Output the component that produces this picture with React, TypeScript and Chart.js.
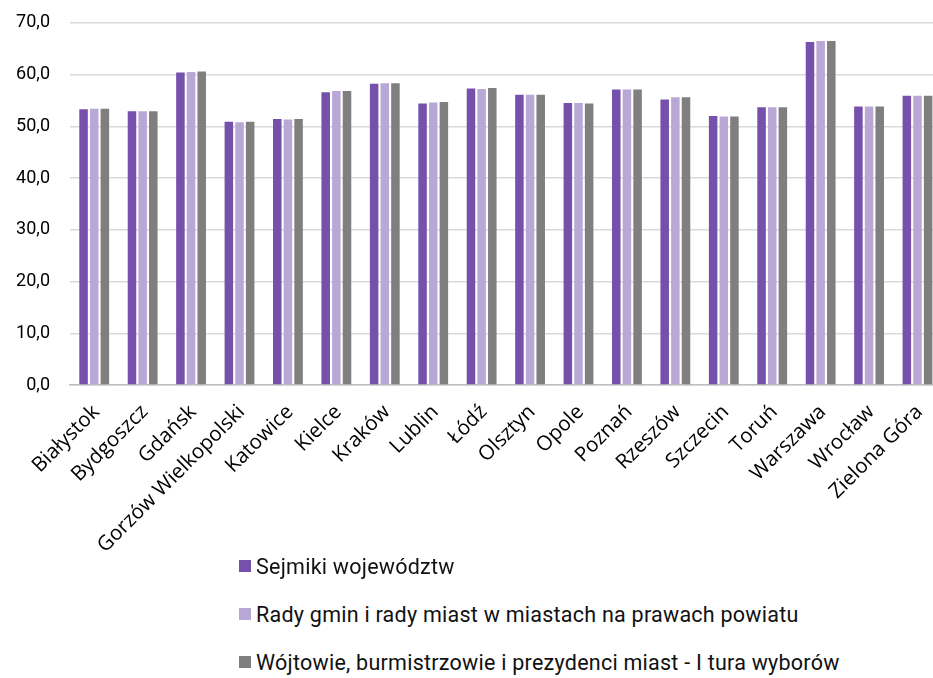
import React, { useEffect, useRef } from "react";
import { Chart, registerables } from "chart.js";

Chart.register(...registerables);

const categories = [
  "Białystok", "Bydgoszcz", "Gdańsk", "Gorzów Wielkopolski", "Katowice", "Kielce",
  "Kraków", "Lublin", "Łódź", "Olsztyn", "Opole", "Poznań", "Rzeszów", "Szczecin",
  "Toruń", "Warszawa", "Wrocław", "Zielona Góra",
];

const sejmiki = [53.3, 52.9, 60.4, 50.9, 51.4, 56.6, 58.2, 54.4, 57.3, 56.1, 54.5, 57.1, 55.2, 52.0, 53.7, 66.3, 53.8, 55.9];
const radyGmin = [53.4, 52.9, 60.5, 50.8, 51.3, 56.8, 58.3, 54.6, 57.2, 56.1, 54.5, 57.1, 55.6, 51.9, 53.7, 66.5, 53.8, 55.9];
const wojtowie = [53.4, 52.9, 60.6, 50.9, 51.4, 56.8, 58.3, 54.7, 57.4, 56.1, 54.4, 57.1, 55.6, 51.9, 53.7, 66.5, 53.8, 55.9];

const seriesNames = [
  "Sejmiki województw",
  "Rady gmin i rady miast w miastach na prawach powiatu",
  "Wójtowie, burmistrzowie i prezydenci miast - I tura wyborów",
];
const seriesColors = ["#7551ac", "#b9a8d6", "#7f7f7f"];

const yTicks = [0, 10, 20, 30, 40, 50, 60, 70];

export default function App() {
  const ref = useRef<HTMLCanvasElement | null>(null);

  useEffect(() => {
    if (!ref.current) return;
    const chart = new Chart(ref.current, {
      type: "bar",
      data: {
        labels: categories,
        datasets: [sejmiki, radyGmin, wojtowie].map((d, i) => ({
          label: seriesNames[i],
          data: d,
          backgroundColor: seriesColors[i],
          borderWidth: 0,
          categoryPercentage: 0.66,
          barPercentage: 0.8,
        })),
      },
      options: {
        responsive: false,
        animation: false,
        layout: { padding: { left: 8, right: 4, top: 0, bottom: 0 } },
        plugins: {
          legend: { display: false },
          tooltip: { enabled: false },
        },
        scales: {
          x: {
            afterFit: (scale: any) => {
              scale.height = 175;
            },
            grid: { display: false, drawTicks: false },
            border: { color: "#bfbfbf", width: 1.5 },
            ticks: {
              color: "#000",
              font: { family: "Open Sans", size: 20.5 },
              minRotation: 45,
              maxRotation: 45,
              padding: 15,
              labelOffset: 2,
            },
          },
          y: {
            min: 0,
            max: 70,
            afterFit: (scale: any) => {
              scale.width = 62;
            },
            afterBuildTicks: (scale: any) => {
              scale.ticks = yTicks.map((v) => ({ value: v }));
            },
            grid: { color: "#d9d9d9", lineWidth: 1.5, drawTicks: false },
            border: { display: false },
            ticks: {
              color: "#000",
              padding: 20,
              font: { family: "Roboto", size: 18 },
              callback: (v: any) => Number(v).toFixed(1).replace(".", ","),
            },
          },
        },
      },
    });
    return () => chart.destroy();
  }, []);

  const legendItem = (i: number, centerY: number) => (
    <div
      key={i}
      style={{
        position: "absolute",
        left: 239,
        top: centerY - 14,
        height: 28,
        display: "flex",
        alignItems: "center",
        fontFamily: "Roboto, sans-serif",
        fontSize: 21.5,
        letterSpacing: 0.25,
        color: "#111",
        whiteSpace: "nowrap",
      }}
    >
      <span
        style={{
          display: "inline-block",
          width: 12,
          height: 12,
          background: seriesColors[i],
          marginRight: 5,
        }}
      />
      <span>{seriesNames[i]}</span>
    </div>
  );

  return (
    <div style={{ position: "absolute", left: 0, top: 0, width: 933, height: 678, overflow: "hidden", background: "#fff" }}>
      <canvas ref={ref} width={950} height={568} style={{ position: "absolute", left: 0, top: -8 }} />
      {legendItem(0, 566)}
      {legendItem(1, 614)}
      {legendItem(2, 662)}
    </div>
  );
}
